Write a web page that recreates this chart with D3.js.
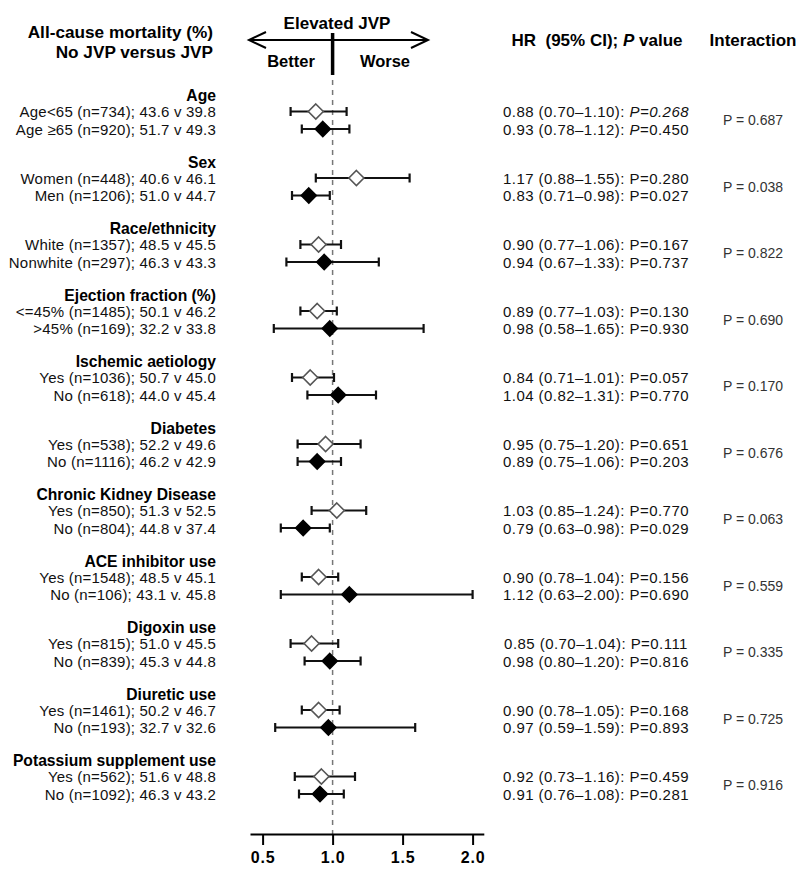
<!DOCTYPE html>
<html>
<head>
<meta charset="utf-8"/>
<title>All-cause mortality, no JVP versus JVP</title>
<script src="https://d3js.org/d3.v7.min.js"></script>
<style>
  body { margin: 0; background: #fff; }
  svg text { font-family: Arial, "Liberation Sans", sans-serif; }
</style>
</head>
<body>
<div id="chart"></div>
<script>
// subgroup headers and the two rows under each one
var groups = ["Age", "Sex", "Race/ethnicity", "Ejection fraction (%)", "Ischemic aetiology",
  "Diabetes", "Chronic Kidney Disease", "ACE inhibitor use", "Digoxin use",
  "Diuretic use", "Potassium supplement use"];

var rowLabels = [
  ["Age<65 (n=734); 43.6 v 39.8", "Age \u226565 (n=920); 51.7 v 49.3"],
  ["Women (n=448); 40.6 v 46.1", "Men (n=1206); 51.0 v 44.7"],
  ["White (n=1357); 48.5 v 45.5", "Nonwhite (n=297); 46.3 v 43.3"],
  ["<=45% (n=1485); 50.1 v 46.2", ">45% (n=169); 32.2 v 33.8"],
  ["Yes (n=1036); 50.7 v 45.0", "No (n=618); 44.0 v 45.4"],
  ["Yes (n=538); 52.2 v 49.6", "No (n=1116); 46.2 v 42.9"],
  ["Yes (n=850); 51.3 v 52.5", "No (n=804); 44.8 v 37.4"],
  ["Yes (n=1548); 48.5 v 45.1", "No (n=106); 43.1 v. 45.8"],
  ["Yes (n=815); 51.0 v 45.5", "No (n=839); 45.3 v 44.8"],
  ["Yes (n=1461); 50.2 v 46.7", "No (n=193); 32.7 v 32.6"],
  ["Yes (n=562); 51.6 v 48.8", "No (n=1092); 46.3 v 43.2"]
];

var hr    = [[0.88, 0.93], [1.17, 0.83], [0.90, 0.94], [0.89, 0.98], [0.84, 1.04], [0.95, 0.89],
             [1.03, 0.79], [0.90, 1.12], [0.85, 0.98], [0.90, 0.97], [0.92, 0.91]];
var ciLow = [[0.70, 0.78], [0.88, 0.71], [0.77, 0.67], [0.77, 0.58], [0.71, 0.82], [0.75, 0.75],
             [0.85, 0.63], [0.78, 0.63], [0.70, 0.80], [0.78, 0.59], [0.73, 0.76]];
var ciHigh = [[1.10, 1.12], [1.55, 0.98], [1.06, 1.33], [1.03, 1.65], [1.01, 1.31], [1.20, 1.06],
             [1.24, 0.98], [1.04, 2.00], [1.04, 1.20], [1.05, 1.59], [1.16, 1.08]];
var pValues = [[0.268, 0.450], [0.280, 0.027], [0.167, 0.737], [0.130, 0.930], [0.057, 0.770],
             [0.651, 0.203], [0.770, 0.029], [0.156, 0.690], [0.111, 0.816], [0.168, 0.893],
             [0.459, 0.281]];
var interaction = [0.687, 0.038, 0.822, 0.690, 0.170, 0.676, 0.063, 0.559, 0.335, 0.725, 0.916];

var xTicks = [0.5, 1.0, 1.5, 2.0];

var width = 800, height = 873;

var svg = d3.select("#chart").append("svg")
  .attr("width", width)
  .attr("height", height);

// x: hazard ratio, domain padded so the axis line runs past the end ticks
var x = d3.scaleLinear().domain([0.41, 2.08]).range([250, 483.8]);
// y: group header position
var yGroup = d3.scaleLinear().domain([0, groups.length - 1]).range([95, 760]);
var rowOffset = [16.5, 34];

var axisY = 834;

// ----- header -----
svg.append("text").attr("x", 213).attr("y", 38).attr("text-anchor", "end")
  .attr("font-size", 17.2).attr("font-weight", "bold").text("All-cause mortality (%)");
svg.append("text").attr("x", 213).attr("y", 58).attr("text-anchor", "end")
  .attr("font-size", 17.2).attr("font-weight", "bold").text("No JVP versus JVP");

svg.append("text").attr("x", 337).attr("y", 29).attr("text-anchor", "middle")
  .attr("font-size", 17).attr("font-weight", "bold").text("Elevated JVP");

var arrowY = 40;
svg.append("line").attr("x1", 249).attr("x2", 428).attr("y1", arrowY).attr("y2", arrowY)
  .attr("stroke", "#000").attr("stroke-width", 2);
svg.append("path").attr("d", "M266," + (arrowY - 8) + " L249," + arrowY + " L266," + (arrowY + 8))
  .attr("fill", "none").attr("stroke", "#000").attr("stroke-width", 2);
svg.append("path").attr("d", "M411," + (arrowY - 8) + " L428," + arrowY + " L411," + (arrowY + 8))
  .attr("fill", "none").attr("stroke", "#000").attr("stroke-width", 2);
svg.append("line").attr("x1", x(1)).attr("x2", x(1)).attr("y1", 33).attr("y2", 75)
  .attr("stroke", "#000").attr("stroke-width", 3.5);
svg.append("text").attr("x", 291).attr("y", 67).attr("text-anchor", "middle")
  .attr("font-size", 16.5).attr("font-weight", "bold").text("Better");
svg.append("text").attr("x", 385).attr("y", 67).attr("text-anchor", "middle")
  .attr("font-size", 16.5).attr("font-weight", "bold").text("Worse");

var hrHead = svg.append("text").attr("x", 597).attr("y", 46).attr("text-anchor", "middle")
  .attr("font-size", 17).attr("font-weight", "bold");
hrHead.append("tspan").attr("xml:space", "preserve").text("HR  (95% CI); ");
hrHead.append("tspan").attr("font-style", "italic").text("P");
hrHead.append("tspan").text(" value");
svg.append("text").attr("x", 753).attr("y", 46).attr("text-anchor", "middle")
  .attr("font-size", 17).attr("font-weight", "bold").text("Interaction");

// ----- reference line -----
svg.append("line").attr("x1", x(1)).attr("x2", x(1)).attr("y1", 80).attr("y2", axisY)
  .attr("stroke", "#777").attr("stroke-width", 1.5).attr("stroke-dasharray", "5,5");

// ----- axis -----
var axis = d3.axisBottom(x).tickValues(xTicks).tickFormat(d3.format(".1f"))
  .tickSize(11).tickSizeOuter(0).tickPadding(7);
var gAxis = svg.append("g").attr("transform", "translate(0," + axisY + ")").call(axis);
gAxis.select(".domain").attr("stroke-width", 2);
gAxis.selectAll(".tick line").attr("stroke-width", 2);
gAxis.selectAll(".tick text").attr("font-size", 16).attr("font-weight", "bold")
  .attr("letter-spacing", "0.8px")
  .attr("font-family", "Arial, 'Liberation Sans', sans-serif").attr("fill", "#000");

// ----- rows -----
function hrString(g, r) {
  return hr[g][r].toFixed(2) + " (" + ciLow[g][r].toFixed(2) + "\u2013" + ciHigh[g][r].toFixed(2) + "): ";
}

groups.forEach(function (name, g) {
  var gy = yGroup(g);
  svg.append("text").attr("x", 216).attr("y", gy + 6).attr("text-anchor", "end")
    .attr("font-size", 15.7).attr("font-weight", "bold").text(name);

  [0, 1].forEach(function (r) {
    var cy = gy + rowOffset[r];
    svg.append("text").attr("x", 216).attr("y", cy + 5.5).attr("text-anchor", "end")
      .attr("font-size", 15).attr("letter-spacing", "0.2px").attr("fill", "#111")
      .text(rowLabels[g][r]);

    // confidence interval
    svg.append("line").attr("x1", x(ciLow[g][r])).attr("x2", x(ciHigh[g][r]))
      .attr("y1", cy).attr("y2", cy).attr("stroke", "#111").attr("stroke-width", 2);
    [ciLow[g][r], ciHigh[g][r]].forEach(function (v) {
      svg.append("line").attr("x1", x(v)).attr("x2", x(v)).attr("y1", cy - 4.5).attr("y2", cy + 4.5)
        .attr("stroke", "#111").attr("stroke-width", 2.2);
    });

    // diamond: open for first row, filled for second
    var dx = x(hr[g][r]), s = 7.5;
    svg.append("path")
      .attr("d", "M" + dx + "," + (cy - s) + " L" + (dx + s) + "," + cy + " L" + dx + "," + (cy + s) + " L" + (dx - s) + "," + cy + " Z")
      .attr("fill", r === 0 ? "#fff" : "#000")
      .attr("stroke", r === 0 ? "#555" : "#000")
      .attr("stroke-width", 1.6);

    // HR text
    var t = svg.append("text").attr("x", 596).attr("y", cy + 5.5).attr("text-anchor", "middle")
      .attr("font-size", 15).attr("letter-spacing", "0.45px").attr("fill", "#111");
    t.append("tspan").text(hrString(g, r));
    var p = t.append("tspan").text("P");
    var rest = t.append("tspan").text("=" + pValues[g][r].toFixed(3));
    if (g === 0) {
      p.attr("font-style", "italic");
      if (r === 0) rest.attr("font-style", "italic");
    }
  });

  svg.append("text").attr("x", 753).attr("y", gy + (rowOffset[0] + rowOffset[1]) / 2 + 5)
    .attr("text-anchor", "middle").attr("font-size", 14).attr("fill", "#333")
    .text("P = " + interaction[g].toFixed(3));
});
</script>
</body>
</html>
